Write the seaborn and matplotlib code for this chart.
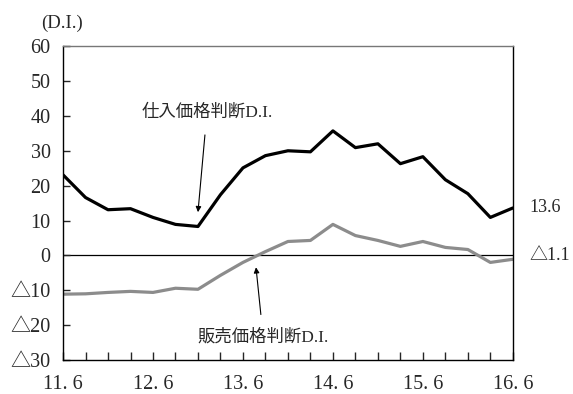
import numpy as np
import pandas as pd
import seaborn as sns
import matplotlib.pyplot as plt

quarters = ['11.6', '11.9', '11.12', '12.3', '12.6', '12.9', '12.12', '13.3', '13.6', '13.9', '13.12',
            '14.3', '14.6', '14.9', '14.12', '15.3', '15.6', '15.9', '15.12', '16.3', '16.6']
purchase_di = [23.1, 16.6, 13.1, 13.4, 10.9, 8.9, 8.3, 17.4, 25.1, 28.6, 30.0,
               29.7, 35.7, 30.9, 32.0, 26.3, 28.3, 21.7, 17.7, 10.9, 13.6]
selling_di = [-11.1, -11.0, -10.6, -10.3, -10.6, -9.4, -9.7, -5.7, -2.0, 1.1, 4.0,
              4.3, 8.9, 5.7, 4.3, 2.6, 4.0, 2.3, 1.7, -2.0, -1.1]
xtick_labels = ['11. 6', '12. 6', '13. 6', '14. 6', '15. 6', '16. 6']
ytick_vals = [-30, -20, -10, 0, 10, 20, 30, 40, 50, 60]
ytick_labels = ['△30', '△20', '△10', '0', '10', '20', '30', '40', '50', '60']

sns.set_style('white')
plt.rcParams['font.family'] = ['Liberation Serif', 'Noto Sans CJK JP', 'DejaVu Serif']

df = pd.DataFrame({'q': np.arange(len(quarters)), 'buy': purchase_di, 'sell': selling_di})

fig = plt.figure(figsize=(5.73, 3.94), dpi=100)
ax = fig.add_axes([0.110, 0.086, 0.785, 0.797])

sns.lineplot(data=df, x='q', y='buy', color='black', linewidth=2.3, ax=ax)
sns.lineplot(data=df, x='q', y='sell', color='#8c8c8c', linewidth=2.3, ax=ax)
ax.axhline(0, color='black', linewidth=0.9, zorder=0)

ax.set_xlim(0, 20)
ax.set_ylim(-30, 60)
ax.set_xticks(np.arange(0, 21, 4))
ax.set_xticklabels(xtick_labels, fontsize=14.5)
ax.set_xticks(np.arange(0, 21), minor=True)
ax.set_yticks(ytick_vals)
ax.set_yticklabels(ytick_labels, fontsize=14.5)
ax.tick_params(axis='x', which='both', direction='in', length=6, width=1, pad=11, bottom=True)
ax.tick_params(axis='y', direction='in', length=5, width=1, pad=9, left=True)
ax.set_xlabel('')
ax.set_ylabel('')

for s in ['left', 'bottom', 'right']:
    ax.spines[s].set_color('black')
    ax.spines[s].set_linewidth(1)
ax.spines['top'].set_color('#777777')
ax.spines['top'].set_linewidth(1)

ax.annotate('仕入価格判断D.I.', xy=(6.0, 12.4), xytext=(6.4, 41), fontsize=12.5,
            ha='center', va='center',
            arrowprops=dict(arrowstyle='-|>', color='black', lw=0.8, shrinkA=8, shrinkB=0,
                            mutation_scale=8))
ax.annotate('販売価格判断D.I.', xy=(8.58, -3.4), xytext=(8.9, -23.4), fontsize=12.5,
            ha='center', va='center',
            arrowprops=dict(arrowstyle='-|>', color='black', lw=0.8, shrinkA=8, shrinkB=0,
                            mutation_scale=8))

ax.text(20.75, purchase_di[-1], '13.6', fontsize=13, ha='left', va='center')
ax.text(20.75, 0, '△1.1', fontsize=13, ha='left', va='center')
fig.text(0.072, 0.94, '(D.I.)', fontsize=13.5, ha='left', va='center')

fig.savefig('out.png', dpi=100)
